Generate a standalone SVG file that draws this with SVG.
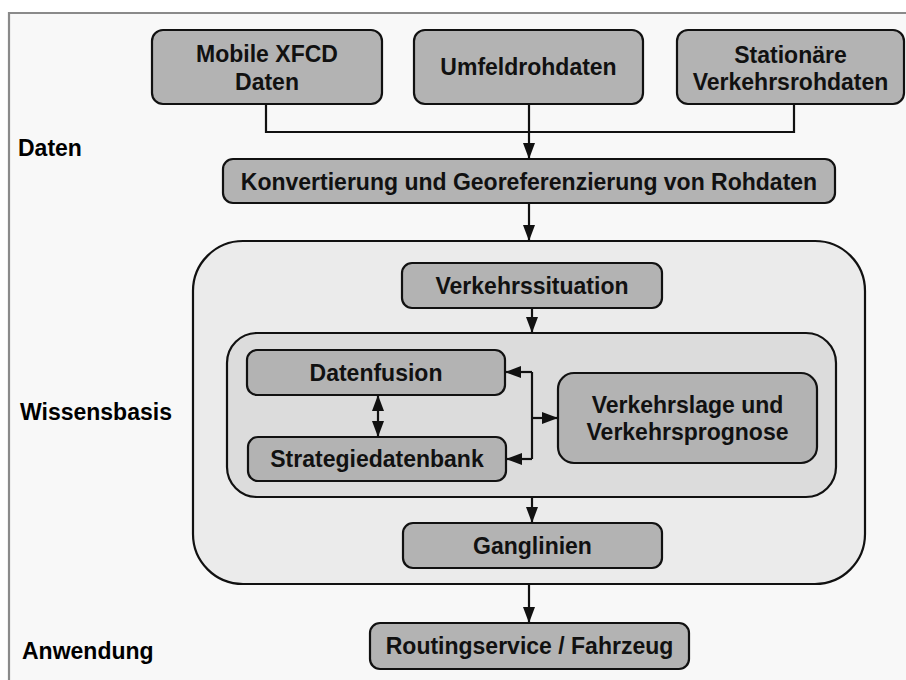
<svg xmlns="http://www.w3.org/2000/svg" width="906" height="680" viewBox="0 0 906 680">
<style>
.box{fill:#b3b3b3;stroke:#111;stroke-width:2.2}
.t{font-family:"Liberation Sans",Arial,Helvetica,sans-serif;font-weight:bold;font-size:23px;fill:#111;text-anchor:middle}
.lab{font-family:"Liberation Sans",Arial,Helvetica,sans-serif;font-weight:bold;font-size:23px;fill:#000}
.c{fill:none;stroke:#111;stroke-width:2.2}
.ca{fill:none;stroke:#111;stroke-width:2.2;marker-end:url(#ah)}
</style>
<defs>
<marker id="ah" viewBox="0 0 16 12" refX="16" refY="6" markerWidth="16" markerHeight="12" markerUnits="userSpaceOnUse" orient="auto-start-reverse">
<path d="M0,0 L16,6 L0,12 z" fill="#111"/>
</marker>
</defs>
<rect x="0" y="0" width="906" height="680" fill="#ffffff"/>
<rect x="8" y="12" width="900" height="670" fill="#f8f8f8"/>
<path d="M9,680 L9,13 L906,13" fill="none" stroke="#8a8a8a" stroke-width="2.2"/>

<g id="label-daten"><text class="lab" x="18" y="156">Daten</text></g>
<g id="label-wissensbasis"><text class="lab" x="20" y="420">Wissensbasis</text></g>
<g id="label-anwendung"><text class="lab" x="22" y="659">Anwendung</text></g>

<g id="wissensbasis">
<rect x="193" y="241" width="672" height="343" rx="50" fill="#ebebeb" stroke="#111" stroke-width="2.2"/>
</g>
<g id="fusion-group">
<rect x="227" y="333" width="609" height="164" rx="30" fill="#dcdcdc" stroke="#111" stroke-width="2.2"/>
</g>

<g id="mobile-xfcd">
<rect class="box" x="152" y="30" width="230" height="74" rx="11"/>
<text class="t" x="267" y="62">Mobile XFCD</text>
<text class="t" x="267" y="90">Daten</text>
</g>
<g id="umfeldrohdaten">
<rect class="box" x="414" y="30" width="229" height="74" rx="11"/>
<text class="t" x="528.5" y="75">Umfeldrohdaten</text>
</g>
<g id="stationaere">
<rect class="box" x="677" y="30" width="227" height="74" rx="11"/>
<text class="t" x="790.5" y="63">Stationäre</text>
<text class="t" x="790.5" y="90">Verkehrsrohdaten</text>
</g>
<g id="konvertierung">
<rect class="box" x="223" y="159" width="612" height="44" rx="10"/>
<text class="t" x="529" y="189.5">Konvertierung und Georeferenzierung von Rohdaten</text>
</g>
<g id="verkehrssituation">
<rect class="box" x="402" y="263" width="260" height="45" rx="10"/>
<text class="t" x="532" y="293.5">Verkehrssituation</text>
</g>
<g id="datenfusion">
<rect class="box" x="247" y="350" width="258" height="45" rx="10"/>
<text class="t" x="376" y="380.5">Datenfusion</text>
</g>
<g id="strategiedatenbank">
<rect class="box" x="248" y="437" width="258" height="44" rx="10"/>
<text class="t" x="377" y="467">Strategiedatenbank</text>
</g>
<g id="verkehrslage">
<rect class="box" x="558" y="373" width="259" height="90" rx="16"/>
<text class="t" x="687.5" y="413">Verkehrslage und</text>
<text class="t" x="687.5" y="440">Verkehrsprognose</text>
</g>
<g id="ganglinien">
<rect class="box" x="403" y="523" width="259" height="45" rx="10"/>
<text class="t" x="532.5" y="553.5">Ganglinien</text>
</g>
<g id="routing">
<rect class="box" x="370" y="623" width="319" height="46" rx="10"/>
<text class="t" x="529.5" y="654">Routingservice / Fahrzeug</text>
</g>

<g id="connectors">
<path class="c" d="M266,104 L266,132 L794,132 L794,104"/>
<path class="ca" d="M529,104 L529,159"/>
<path class="ca" d="M529,203 L529,241"/>
<path class="ca" d="M532,308 L532,333"/>
<path class="ca" d="M378,395 L378,437" style="marker-start:url(#ah)"/>
<path class="c" d="M532,372 L532,459"/>
<path class="ca" d="M532,372 L505,372"/>
<path class="ca" d="M532,459 L506,459"/>
<path class="ca" d="M532,418 L558,418"/>
<path class="ca" d="M532,497 L532,523"/>
<path class="ca" d="M529,584 L529,623"/>
</g>
</svg>
